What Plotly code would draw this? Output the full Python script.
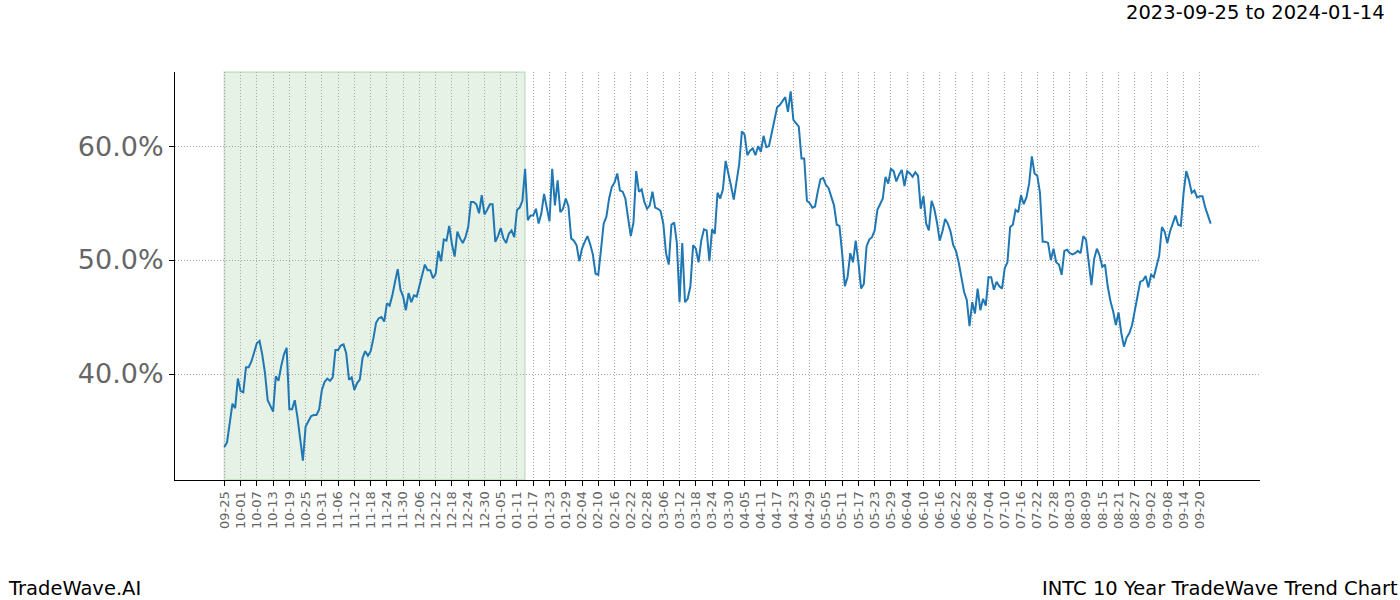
import plotly.graph_objects as go

# Tick labels (every 6th day of the series)
tick_labels = ["09-25", "10-01", "10-07", "10-13", "10-19", "10-25", "10-31", "11-06", "11-12",
               "11-18", "11-24", "11-30", "12-06", "12-12", "12-18", "12-24", "12-30", "01-05",
               "01-11", "01-17", "01-23", "01-29", "02-04", "02-10", "02-16", "02-22", "02-28",
               "03-06", "03-12", "03-18", "03-24", "03-30", "04-05", "04-11", "04-17", "04-23",
               "04-29", "05-05", "05-11", "05-17", "05-23", "05-29", "06-04", "06-10", "06-16",
               "06-22", "06-28", "07-04", "07-10", "07-16", "07-22", "07-28", "08-03", "08-09",
               "08-15", "08-21", "08-27", "09-02", "09-08", "09-14", "09-20"]
tick_step = 6

# Trend values (%) per day
values = [
    33.6, 34.0, 35.7, 37.4, 37.0, 39.6, 38.5, 38.4, 40.6, 40.6,
    41.1, 41.8, 42.7, 42.9, 41.7, 40.1, 37.7, 37.2, 36.7, 39.8,
    39.4, 40.7, 41.7, 42.3, 36.9, 36.9, 37.7, 36.2, 34.2, 32.4,
    35.4, 35.9, 36.3, 36.4, 36.4, 36.9, 38.6, 39.3, 39.6, 39.4,
    39.7, 42.1, 42.1, 42.5, 42.6, 41.8, 39.5, 39.7, 38.6, 39.2,
    39.5, 41.4, 42.0, 41.6, 42.0, 43.1, 44.5, 44.9, 45.0, 44.6,
    46.2, 46.0, 46.9, 48.1, 49.2, 47.4, 46.8, 45.6, 47.1, 46.3,
    46.9, 46.8, 47.8, 48.8, 49.6, 49.1, 49.1, 48.4, 48.8, 50.8,
    49.9, 51.8, 51.7, 53.0, 51.4, 50.3, 52.5, 51.9, 51.5, 52.0,
    52.9, 55.1, 55.1, 54.9, 54.1, 55.7, 54.0, 54.4, 54.9, 54.9,
    51.6, 52.1, 52.8, 51.9, 51.5, 52.3, 52.6, 52.0, 54.4, 54.6,
    55.2, 58.0, 53.5, 53.9, 53.9, 54.5, 53.2, 54.1, 55.8, 54.6,
    53.4, 58.0, 54.8, 57.0, 54.2, 54.5, 55.4, 54.7, 51.9, 51.7,
    51.3, 49.9, 51.0, 51.6, 52.1, 51.4, 50.5, 48.8, 48.7, 50.9,
    53.2, 53.8, 55.4, 56.4, 56.8, 57.6, 56.1, 56.0, 55.4, 53.7,
    52.1, 53.3, 57.8, 56.0, 56.2, 55.1, 54.5, 54.8, 56.0, 54.6,
    54.5, 54.3, 53.2, 50.6, 49.6, 53.1, 53.3, 51.5, 46.3, 51.5,
    46.3, 46.6, 47.7, 51.3, 51.0, 49.8, 51.7, 52.7, 52.6, 49.9,
    52.7, 52.3, 55.9, 55.4, 56.2, 58.7, 57.7, 56.5, 55.3, 56.7,
    58.4, 61.3, 61.0, 59.2, 59.6, 59.8, 59.2, 60.0, 59.5, 60.9,
    59.9, 60.0, 61.1, 62.5, 63.4, 63.6, 63.9, 64.3, 63.0, 64.8,
    62.3, 62.0, 61.7, 58.9, 58.9, 55.2, 55.0, 54.6, 54.7, 56.0,
    57.1, 57.2, 56.6, 56.3, 55.5, 54.8, 53.1, 53.0, 50.6, 47.7,
    48.5, 50.6, 49.8, 51.7, 49.8, 47.5, 47.9, 51.2, 51.8, 52.0,
    52.6, 54.4, 54.9, 55.4, 57.3, 56.7, 58.0, 57.8, 56.9, 57.5,
    57.9, 56.5, 57.8, 57.6, 57.3, 57.7, 57.4, 54.5, 55.6, 53.2,
    52.6, 55.2, 54.5, 53.3, 51.7, 52.5, 53.6, 53.2, 52.5, 51.3,
    50.8, 49.8, 48.5, 47.2, 46.5, 44.2, 46.3, 45.3, 47.5, 45.6,
    46.6, 46.0, 48.5, 48.5, 47.4, 48.1, 47.7, 47.5, 49.3, 49.8,
    52.9, 53.1, 54.4, 54.2, 55.7, 54.9, 55.5, 56.7, 59.1, 57.6,
    57.4, 55.9, 51.6, 51.6, 51.5, 50.0, 51.0, 49.8, 49.6, 48.7,
    50.8, 50.9, 50.6, 50.5, 50.6, 50.8, 50.6, 52.1, 51.8, 49.8,
    47.8, 50.1, 51.0, 50.4, 49.4, 49.6, 47.7, 46.4, 45.5, 44.3,
    45.4, 43.6, 42.4, 43.2, 43.6, 44.3, 45.5, 46.6, 48.1, 48.2,
    48.6, 47.6, 48.7, 48.5, 49.4, 50.4, 52.9, 52.5, 51.5, 52.5,
    53.2, 53.9, 53.1, 53.0, 55.9, 57.8, 57.0, 55.9, 56.1, 55.5,
    55.6, 55.6, 54.6, 53.9, 53.2,
]

y_ticks = [40, 50, 60]
y_tick_labels = ["40.0%", "50.0%", "60.0%"]

shade_start = 0      # 2023-09-25
shade_end = 111      # 2024-01-14

title_text = "2023-09-25 to 2024-01-14"
left_footer = "TradeWave.AI"
right_footer = "INTC 10 Year TradeWave Trend Chart"

day_index = list(range(len(values)))
tick_vals = [i * tick_step for i in range(len(tick_labels))]

n = len(values)
pad_x = 0.05 * (n - 1)

fig = go.Figure()
fig.add_trace(go.Scatter(x=day_index, y=values, mode="lines",
                         line=dict(color="#1f77b4", width=2), hoverinfo="skip",
                         showlegend=False))

fig.add_shape(type="rect", xref="x", yref="paper", x0=shade_start, x1=shade_end,
              y0=0, y1=1, fillcolor="rgba(0,128,0,0.1)",
              line=dict(color="rgba(0,100,0,0.12)", width=2), layer="below")

font_family = "DejaVu Sans"
grid_dash = "1px,2px"
fig.update_layout(
    width=1400, height=600,
    margin=dict(l=175, r=140, t=72, b=120),
    paper_bgcolor="white", plot_bgcolor="white",
    font=dict(family=font_family),
    showlegend=False,
    xaxis=dict(range=[-pad_x, n - 1 + pad_x], tickmode="array", tickvals=tick_vals,
               ticktext=tick_labels, tickangle=-90,
               tickfont=dict(size=13, color="#666666", family=font_family),
               ticks="outside", ticklen=5, tickcolor="black", tickwidth=1,
               showline=True, linecolor="black", linewidth=1, mirror=False,
               showgrid=True, gridcolor="#a8a8a8", griddash=grid_dash, gridwidth=1,
               zeroline=False),
    yaxis=dict(range=[30.7, 66.5], tickmode="array", tickvals=y_ticks,
               ticktext=y_tick_labels,
               tickfont=dict(size=27, color="#666666", family=font_family),
               ticks="outside", ticklen=5, tickcolor="black", tickwidth=1,
               showline=True, linecolor="black", linewidth=1, mirror=False,
               showgrid=True, gridcolor="#a8a8a8", griddash=grid_dash, gridwidth=1,
               zeroline=False),
)

fig.add_annotation(text=title_text, xref="paper", yref="paper", x=(1387 - 175) / 1085,
                   y=(480 - 12) / 408, xanchor="right", yanchor="middle", showarrow=False,
                   font=dict(size=19.5, color="black", family=font_family))
fig.add_annotation(text=left_footer, xref="paper", yref="paper", x=(6 - 175) / 1085,
                   y=(480 - 588) / 408, xanchor="left", yanchor="middle", showarrow=False,
                   font=dict(size=19.5, color="black", family=font_family))
fig.add_annotation(text=right_footer, xref="paper", yref="paper", x=(1400 - 175) / 1085,
                   y=(480 - 588) / 408, xanchor="right", yanchor="middle", showarrow=False,
                   font=dict(size=19.5, color="black", family=font_family))

fig.write_html("out.html", config={"displayModeBar": False},
               post_script="document.body.style.margin='0px';document.body.style.overflow='hidden';")
